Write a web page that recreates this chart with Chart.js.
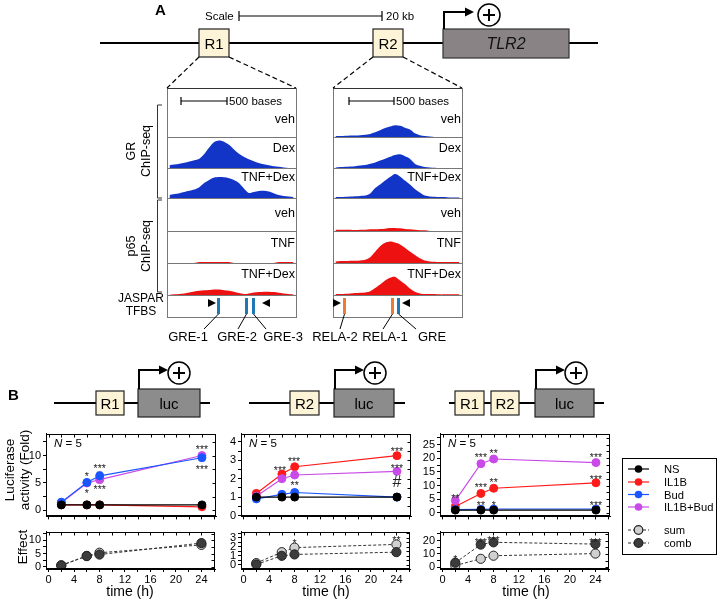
<!DOCTYPE html>
<html>
<head>
<meta charset="utf-8">
<script src="https://cdn.jsdelivr.net/npm/chart.js"></script>
<style>
  body { margin: 0; background: #fff; }
  #fig { position: relative; width: 719px; height: 601px; overflow: hidden; background: #fff; }
  #fig canvas { position: absolute; }
  #ov { position: absolute; left: 0; top: 0; z-index: 2; }
</style>
</head>
<body>
<div id="fig">
<svg id="ov" width="719" height="601" viewBox="0 0 719 601" font-family="Liberation Sans, Arial, sans-serif" fill="#000">
  <!-- ===== panel A : locus ===== -->
  <text x="155" y="15" font-size="15" font-weight="bold">A</text>
  <text x="205" y="20" font-size="11.5">Scale</text>
  <g stroke="#000" stroke-width="1.2">
    <line x1="239" y1="16" x2="382" y2="16"/>
    <line x1="239" y1="11" x2="239" y2="21"/>
    <line x1="382" y1="11" x2="382" y2="21"/>
  </g>
  <text x="386" y="20" font-size="11.5">20 kb</text>
  <line x1="100" y1="43" x2="598" y2="43" stroke="#000" stroke-width="2"/>
  <rect x="199" y="29" width="30" height="28" fill="#fdf3d6" stroke="#222" stroke-width="1.2"/>
  <text x="214" y="48.5" font-size="15" text-anchor="middle">R1</text>
  <rect x="373" y="29" width="30" height="28" fill="#fdf3d6" stroke="#222" stroke-width="1.2"/>
  <text x="388" y="48.5" font-size="15" text-anchor="middle">R2</text>
  <rect x="443" y="29" width="126" height="29" fill="#8a8385" stroke="#333" stroke-width="1.2"/>
  <text x="506" y="49" font-size="16" font-style="italic" text-anchor="middle" fill="#111">TLR2</text>
  <polyline points="444,29 444,12 466,12" fill="none" stroke="#000" stroke-width="2"/>
  <polygon points="465,7.5 474,12 465,16.5" fill="#000"/>
  <circle cx="489" cy="15" r="11" fill="#fff" stroke="#000" stroke-width="1.5"/>
  <g stroke="#000" stroke-width="2"><line x1="483" y1="15" x2="495" y2="15"/><line x1="489" y1="9" x2="489" y2="21"/></g>
  <g stroke="#000" stroke-width="1.2" stroke-dasharray="5,3">
    <line x1="199" y1="57" x2="167" y2="88"/><line x1="229" y1="57" x2="296" y2="88"/>
    <line x1="373" y1="57" x2="333" y2="88"/><line x1="403" y1="57" x2="462" y2="88"/>
  </g>
  <!-- track panels -->
  <g fill="none" stroke="#777" stroke-width="1">
    <rect x="167.5" y="88.5" width="129" height="229"/>
    <rect x="333.5" y="88.5" width="129" height="229"/>
    <path d="M167 137.5H296M167 168.5H296M167 198.5H296M167 231.5H296M167 263.5H296M167 295.5H296"/>
    <path d="M333 137.5H462M333 168.5H462M333 198.5H462M333 231.5H462M333 263.5H462M333 295.5H462"/>
  </g>
  <line x1="167" y1="88.5" x2="296" y2="88.5" stroke="#333"/>
  <line x1="333" y1="88.5" x2="462" y2="88.5" stroke="#333"/>
  <g stroke="#000" stroke-width="1.2">
    <line x1="181" y1="101" x2="227" y2="101"/><line x1="181" y1="97" x2="181" y2="105"/><line x1="227" y1="97" x2="227" y2="105"/>
    <line x1="349" y1="101" x2="394" y2="101"/><line x1="349" y1="97" x2="349" y2="105"/><line x1="394" y1="97" x2="394" y2="105"/>
  </g>
  <text x="229" y="105" font-size="11.5">500 bases</text>
  <text x="396" y="105" font-size="11.5">500 bases</text>
  <g font-size="12.5" text-anchor="end">
    <text x="295" y="122.5">veh</text><text x="295" y="151.5">Dex</text><text x="295" y="180.5">TNF+Dex</text>
    <text x="295" y="216.5">veh</text><text x="295" y="246.5">TNF</text><text x="295" y="277.5">TNF+Dex</text>
    <text x="461" y="122.5">veh</text><text x="461" y="151.5">Dex</text><text x="461" y="180.5">TNF+Dex</text>
    <text x="461" y="216.5">veh</text><text x="461" y="246.5">TNF</text><text x="461" y="277.5">TNF+Dex</text>
  </g>
  <path d="M162 105H157.5V198H162M162 200H157.5V292H162" fill="none" stroke="#333" stroke-width="1"/>
  <g font-size="12.5" text-anchor="middle" dominant-baseline="central">
    <text transform="translate(131,151) rotate(-90)">GR</text>
    <text transform="translate(146,151) rotate(-90)">ChIP-seq</text>
    <text transform="translate(131,246) rotate(-90)">p65</text>
    <text transform="translate(146,246) rotate(-90)">ChIP-seq</text>
  </g>
  <text x="141" y="302" font-size="12" text-anchor="middle">JASPAR</text>
  <text x="141" y="315" font-size="12" text-anchor="middle">TFBS</text>
  <!-- TFBS marks -->
  <polygon points="208,299 216,303 208,307"/><polygon points="270,299 262,303 270,307"/>
  <rect x="217" y="298" width="3" height="16" fill="#1f78b4"/>
  <rect x="245" y="298" width="3" height="16" fill="#1f78b4"/>
  <rect x="252" y="298" width="3" height="16" fill="#1f78b4"/>
  <polygon points="333,299 341,303 333,307"/><polygon points="410,299 402,303 410,307"/>
  <rect x="343" y="298" width="3" height="16" fill="#e87d33"/>
  <rect x="391" y="298" width="3" height="16" fill="#e87d33"/>
  <rect x="397" y="298" width="3" height="16" fill="#1f78b4"/>
  <g stroke="#000" stroke-width="1">
    <line x1="218.5" y1="314" x2="204" y2="329"/><line x1="246.5" y1="314" x2="238" y2="329"/><line x1="253.5" y1="314" x2="266" y2="329"/>
    <line x1="344.5" y1="314" x2="340" y2="329"/><line x1="392.5" y1="314" x2="383" y2="329"/><line x1="398.5" y1="314" x2="416" y2="329"/>
  </g>
  <g font-size="13" text-anchor="middle">
    <text x="188" y="341">GRE-1</text><text x="237" y="341">GRE-2</text><text x="283" y="341">GRE-3</text>
    <text x="335" y="341">RELA-2</text><text x="385" y="341">RELA-1</text><text x="432" y="341">GRE</text>
  </g>

  <!-- ===== panel B : constructs ===== -->
  <text x="8" y="400" font-size="15" font-weight="bold">B</text>
  <g stroke="#000" stroke-width="2">
    <line x1="54" y1="403" x2="210" y2="403"/>
    <line x1="249" y1="403" x2="405" y2="403"/>
    <line x1="449" y1="403" x2="604" y2="403"/>
  </g>
  <g stroke="#222" stroke-width="1.2">
    <rect x="96" y="391" width="28" height="24" fill="#fdf3d6"/>
    <rect x="138" y="389" width="62" height="28" fill="#8c8c8c"/>
    <rect x="290" y="391" width="29" height="24" fill="#fdf3d6"/>
    <rect x="334" y="389" width="60" height="28" fill="#8c8c8c"/>
    <rect x="455" y="391" width="29" height="24" fill="#fdf3d6"/>
    <rect x="491" y="391" width="28" height="24" fill="#fdf3d6"/>
    <rect x="535" y="389" width="59" height="28" fill="#8c8c8c"/>
  </g>
  <g font-size="15" text-anchor="middle">
    <text x="110" y="408.5">R1</text><text x="169" y="408.5">luc</text>
    <text x="304.5" y="408.5">R2</text><text x="364" y="408.5">luc</text>
    <text x="469.5" y="408.5">R1</text><text x="505" y="408.5">R2</text><text x="564.5" y="408.5">luc</text>
  </g>
  <g fill="none" stroke="#000" stroke-width="2">
    <polyline points="139,389 139,370 160,370"/>
    <polyline points="335,389 335,370 356,370"/>
    <polyline points="536,389 536,370 557,370"/>
  </g>
  <polygon points="159,365.5 168,370 159,374.5"/>
  <polygon points="355,365.5 364,370 355,374.5"/>
  <polygon points="556,365.5 565,370 556,374.5"/>
  <g fill="#fff" stroke="#000" stroke-width="1.5">
    <circle cx="179" cy="373" r="11"/><circle cx="375" cy="373" r="11"/><circle cx="576" cy="373" r="11"/>
  </g>
  <g stroke="#000" stroke-width="2">
    <path d="M173 373H185M179 367V379"/><path d="M369 373H381M375 367V379"/><path d="M570 373H582M576 367V379"/>
  </g>
  <!-- axis titles -->
  <g font-size="13.5" text-anchor="middle" dominant-baseline="central">
    <text transform="translate(9,470) rotate(-90)">Luciferase</text>
    <text transform="translate(24,470) rotate(-90)">activity (Fold)</text>
    <text transform="translate(22,547) rotate(-90)">Effect</text>
  </g>
  <g font-size="14" text-anchor="middle">
    <text x="130" y="596">time (h)</text><text x="326" y="596">time (h)</text><text x="526" y="596">time (h)</text>
  </g>
  <!-- legend -->
  <rect x="622.5" y="458.5" width="94" height="96" fill="#fff" stroke="#000" stroke-width="1"/>
  <g stroke-width="1.2">
    <line x1="628" y1="469" x2="649" y2="469" stroke="#000"/><circle cx="638.5" cy="469" r="3.8" fill="#000"/>
    <line x1="628" y1="482" x2="649" y2="482" stroke="#ff1a1a"/><circle cx="638.5" cy="482" r="3.8" fill="#ff1a1a"/>
    <line x1="628" y1="494.5" x2="649" y2="494.5" stroke="#1a56ff"/><circle cx="638.5" cy="494.5" r="3.8" fill="#1a56ff"/>
    <line x1="628" y1="507" x2="649" y2="507" stroke="#c94ae8"/><circle cx="638.5" cy="507" r="3.8" fill="#c94ae8"/>
    <line x1="628" y1="530" x2="649" y2="530" stroke="#333" stroke-dasharray="3,2"/><circle cx="638.5" cy="530" r="4.3" fill="#d0d0d0" stroke="#222"/>
    <line x1="628" y1="543" x2="649" y2="543" stroke="#333" stroke-dasharray="3,2"/><circle cx="638.5" cy="543" r="4.3" fill="#3c3c3c" stroke="#222"/>
  </g>
  <g font-size="11.2" dominant-baseline="central">
    <text x="664" y="469">NS</text><text x="664" y="482">IL1B</text><text x="664" y="494.5">Bud</text>
    <text x="664" y="507">IL1B+Bud</text><text x="664" y="530">sum</text><text x="664" y="543">comb</text>
  </g>
</svg>
</div>
<script>
// ---- ChIP-seq coverage (26 bins across each window, fraction of track height) ----
const bins = [0, 1, 2, 3, 4, 5, 6, 7, 8, 9, 10, 11, 12, 13, 14, 15, 16, 17, 18, 19, 20, 21, 22, 23, 24, 25];

const grVehR1    = [0, 0, 0, 0, 0, 0, 0, 0, 0, 0, 0, 0, 0, 0, 0, 0, 0, 0, 0, 0, 0, 0, 0, 0, 0, 0];
const grDexR1    = [0.09, 0.11, 0.14, 0.17, 0.21, 0.25, 0.30, 0.45, 0.66, 0.84, 0.89, 0.85, 0.75, 0.60, 0.46, 0.36, 0.28, 0.22, 0.16, 0.12, 0.09, 0.06, 0.04, 0.02, 0, 0];
const grTnfDexR1 = [0.10, 0.13, 0.16, 0.20, 0.24, 0.28, 0.36, 0.50, 0.60, 0.68, 0.70, 0.69, 0.66, 0.60, 0.50, 0.32, 0.17, 0.20, 0.23, 0.24, 0.22, 0.16, 0.10, 0.07, 0.05, 0.03];
const p65VehR1   = [0, 0, 0, 0, 0, 0, 0, 0, 0, 0, 0, 0, 0, 0, 0, 0, 0, 0, 0, 0, 0, 0, 0, 0, 0, 0];
const p65TnfR1   = [0, 0, 0, 0, 0, 0, 0.03, 0.03, 0.03, 0.03, 0.03, 0.03, 0.03, 0, 0, 0, 0, 0, 0, 0, 0, 0, 0.03, 0.03, 0.03, 0.03];
const p65TnfDexR1 = [0.01, 0.02, 0.03, 0.05, 0.08, 0.11, 0.13, 0.15, 0.16, 0.17, 0.17, 0.15, 0.13, 0.10, 0.06, 0.03, 0.05, 0.08, 0.09, 0.10, 0.10, 0.09, 0.07, 0.05, 0.03, 0.02];

const grVehR2    = [0.03, 0.03, 0.04, 0.05, 0.05, 0.06, 0.07, 0.10, 0.15, 0.22, 0.29, 0.34, 0.38, 0.36, 0.30, 0.24, 0.12, 0.06, 0.03, 0.02, 0, 0, 0, 0, 0, 0];
const grDexR2    = [0.02, 0.03, 0.04, 0.05, 0.06, 0.08, 0.10, 0.14, 0.18, 0.24, 0.30, 0.36, 0.42, 0.44, 0.38, 0.30, 0.14, 0.07, 0.03, 0.02, 0.01, 0, 0, 0, 0, 0];
const grTnfDexR2 = [0.03, 0.03, 0.04, 0.05, 0.06, 0.07, 0.08, 0.15, 0.33, 0.45, 0.58, 0.70, 0.80, 0.72, 0.58, 0.45, 0.30, 0.18, 0.08, 0.05, 0.04, 0.03, 0.03, 0.02, 0.02, 0.02];
const p65VehR2   = [0.04, 0.04, 0.04, 0.04, 0.03, 0.04, 0.04, 0.05, 0.05, 0.06, 0.07, 0.09, 0.09, 0.08, 0.06, 0.05, 0.04, 0.02, 0.02, 0, 0, 0, 0, 0, 0, 0];
const p65TnfR2   = [0.05, 0.06, 0.06, 0.07, 0.07, 0.08, 0.10, 0.18, 0.35, 0.52, 0.63, 0.67, 0.64, 0.58, 0.48, 0.36, 0.25, 0.15, 0.08, 0.05, 0.04, 0.03, 0.03, 0.03, 0.03, 0.03];
const p65TnfDexR2 = [0.03, 0.03, 0.04, 0.05, 0.06, 0.07, 0.08, 0.12, 0.22, 0.33, 0.45, 0.54, 0.57, 0.45, 0.34, 0.20, 0.10, 0.05, 0.03, 0.03, 0.03, 0.02, 0.02, 0.02, 0.02, 0.02];

// ---- luciferase time course ----
const times = [2, 6, 8, 24];
const xTicks = [0, 2, 4, 6, 8, 10, 12, 14, 16, 18, 20, 22, 24, 26];
const xLabels = [0, 4, 8, 12, 16, 20, 24];

// R1-luc
const r1NS     = [1.0, 1.0, 1.0, 1.0];
const r1IL1B   = [1.0, 1.0, 1.0, 0.65];
const r1Bud    = [1.5, 5.1, 6.3, 9.6];
const r1Both   = [1.4, 5.0, 5.6, 10.0];
const r1BudErr = [0.2, 0.3, 0.7, 0.3];
const r1Sum    = [0.5, 4.1, 5.3, 8.3];
const r1Comb   = [0.4, 4.0, 4.6, 9.0];
// R2-luc
const r2NS     = [1.0, 1.0, 1.0, 1.0];
const r2IL1B   = [1.2, 2.25, 2.65, 3.25];
const r2Bud    = [0.9, 1.15, 1.25, 1.0];
const r2Both   = [1.05, 2.0, 2.2, 2.4];
const r2BudErr = [0.05, 0.08, 0.15, 0.05];
const r2Sum    = [0.2, 1.4, 1.9, 2.25];
const r2Comb   = [0.05, 1.0, 1.15, 1.4];
// R1R2-luc
const r12NS    = [1.0, 1.0, 1.0, 1.0];
const r12IL1B  = [2.3, 7.1, 9.0, 11.0];
const r12Bud   = [1.2, 1.3, 1.4, 1.4];
const r12Both  = [4.5, 18.0, 19.7, 18.4];
const r12BothErr = [0.5, 0.8, 0.7, 0.9];
const r12Sum   = [1.4, 6.4, 8.7, 10.3];
const r12Comb  = [3.5, 17.0, 18.7, 17.4];

// y ticks: [all tick marks], [labelled ones]
const yTicksTop1 = [0, 2.5, 5, 7.5, 10, 12.5], yLabTop1 = [0, 5, 10];
const yTicksTop2 = [0, 0.5, 1, 1.5, 2, 2.5, 3, 3.5, 4], yLabTop2 = [0, 1, 2, 3, 4];
const yTicksTop3 = [0, 2.5, 5, 7.5, 10, 12.5, 15, 17.5, 20, 22.5, 25, 27.5], yLabTop3 = [0, 5, 10, 15, 20, 25];
const yTicksBot1 = [0, 2.5, 5, 7.5, 10, 12.5], yLabBot1 = [0, 5, 10];
const yTicksBot2 = [0, 0.5, 1, 1.5, 2, 2.5, 3, 3.5], yLabBot2 = [0, 1, 2, 3];
const yTicksBot3 = [0, 5, 10, 15, 20, 25], yLabBot3 = [0, 10, 20];

// significance marks: [time, value where the mark sits, text]
const r1Marks  = [[6, 6.6, '*'], [6, 3.5, '*'], [8, 8.1, '***'], [8, 4.2, '***'], [24, 11.5, '***'], [24, 7.9, '***']];
const r2Marks  = [[5.7, 2.57, '***'], [7.9, 3.05, '***'], [8, 1.76, '**'], [24, 3.62, '***'], [24, 2.67, '***'], [24, 1.8, '#']];
const r12Marks = [[2, 6.1, '**'], [6, 21, '***'], [8, 22.6, '**'], [24, 21.3, '***'],
                  [6, 10.3, '***'], [8, 11.9, '**'], [24, 12.9, '***'],
                  [6, 3.6, '**'], [8, 3.7, '*'], [24, 3.7, '***']];
const r2EffMarks  = [[8, 2.6, '*'], [24, 2.9, '**']];
const r12EffMarks = [[2, 7.3, '*'], [6, 20.6, '***'], [8, 21.8, '***'], [24, 20.6, '***']];

const FONT = '"Liberation Sans", Arial, sans-serif';
const fig = document.getElementById('fig');
const ov = document.getElementById('ov');

function addCanvas(left, top, w, h) {
  const c = document.createElement('canvas');
  c.width = w; c.height = h;
  c.style.left = left + 'px'; c.style.top = top + 'px';
  c.style.width = w + 'px'; c.style.height = h + 'px';
  fig.insertBefore(c, ov);
  return c;
}

// ChIP-seq tracks
function track(left, top, h, vals, color) {
  const c = addCanvas(left, top, 129, h);
  new Chart(c, {
    type: 'line',
    data: { datasets: [{ data: vals.map((v, i) => ({ x: bins[i], y: v })), fill: 'origin',
      backgroundColor: color, borderColor: color, borderWidth: 0, pointRadius: 0, tension: 0.3 }] },
    options: {
      responsive: false, animation: false, events: [],
      layout: { padding: 0 },
      plugins: { legend: { display: false }, tooltip: { enabled: false } },
      scales: { x: { type: 'linear', min: -0.5, max: 25.5, display: false },
                y: { min: 0, max: 1, display: false } }
    }
  });
}
const BLUE = '#1235c8', RED = '#ee1111';
const rows = [[106, 31], [137, 31], [168, 30], [198, 33], [231, 32], [263, 32]];
[[grVehR1, BLUE], [grDexR1, BLUE], [grTnfDexR1, BLUE], [p65VehR1, RED], [p65TnfR1, RED], [p65TnfDexR1, RED]]
  .forEach(([v, col], i) => track(167, rows[i][0], rows[i][1], v, col));
[[grVehR2, BLUE], [grDexR2, BLUE], [grTnfDexR2, BLUE], [p65VehR2, RED], [p65TnfR2, RED], [p65TnfDexR2, RED]]
  .forEach(([v, col], i) => track(333, rows[i][0], rows[i][1], v, col));

// frame, inner ticks, error bars, marks
const framePlugin = {
  id: 'frame',
  beforeDatasetsDraw(chart, args, o) {
    const { ctx, scales: { x, y } } = chart;
    (o.errs || []).forEach(([di, err]) => {
      const ds = chart.data.datasets[di];
      ctx.save();
      ctx.strokeStyle = ds.borderColor; ctx.lineWidth = 1.2;
      ds.data.forEach((p, i) => {
        if (!err[i]) return;
        const px = x.getPixelForValue(p.x);
        const y1 = y.getPixelForValue(p.y - err[i]), y2 = y.getPixelForValue(p.y + err[i]);
        ctx.beginPath();
        ctx.moveTo(px, y1); ctx.lineTo(px, y2);
        ctx.moveTo(px - 2.5, y1); ctx.lineTo(px + 2.5, y1);
        ctx.moveTo(px - 2.5, y2); ctx.lineTo(px + 2.5, y2);
        ctx.stroke();
      });
      ctx.restore();
    });
  },
  afterDraw(chart, args, o) {
    const { ctx, chartArea: a, scales: { x, y } } = chart;
    ctx.save();
    ctx.strokeStyle = '#000'; ctx.lineWidth = 1;
    const L = Math.round(a.left) + 0.5, R = Math.round(a.right) - 0.5;
    const T = Math.round(a.top) + 0.5, B = Math.round(a.bottom) - 0.5;
    ctx.strokeRect(L, T, R - L, B - T);
    ctx.beginPath();
    x.ticks.forEach(t => { const px = Math.round(x.getPixelForValue(t.value)) + 0.5; ctx.moveTo(px, T); ctx.lineTo(px, T + 3); });
    y.ticks.forEach(t => { const py = Math.round(y.getPixelForValue(t.value)) + 0.5; ctx.moveTo(R, py); ctx.lineTo(R - 3, py); });
    ctx.stroke();
    ctx.fillStyle = '#222';
    ctx.textAlign = 'center'; ctx.textBaseline = 'middle';
    (o.marks || []).forEach(([t, v, s]) => {
      const px = x.getPixelForValue(t), py = y.getPixelForValue(v);
      if (s === '#') { ctx.font = '16px ' + FONT; ctx.fillText(s, px, py); }
      else { ctx.font = '10.5px ' + FONT; ctx.fillText(s, px, py + 3); }
    });
    if (o.n) {
      ctx.textAlign = 'left'; ctx.fillStyle = '#000';
      ctx.font = 'italic 11.5px ' + FONT;
      const nx = a.left + 8, ny = a.top + 10;
      ctx.fillText('N', nx, ny);
      const w = ctx.measureText('N').width;
      ctx.font = '11.5px ' + FONT;
      ctx.fillText(' = 5', nx + w, ny);
    }
    ctx.restore();
  }
};

function ser(vals, color, extra) {
  return Object.assign({
    data: times.map((t, i) => ({ x: t, y: vals[i] })),
    borderColor: color, backgroundColor: color,
    pointBackgroundColor: color, pointBorderColor: color,
    borderWidth: 1.2, pointRadius: 4, pointBorderWidth: 1
  }, extra || {});
}
function eff(vals, fillCol) {
  return ser(vals, '#333', { borderDash: [3, 2], borderWidth: 1, pointBackgroundColor: fillCol, pointBorderColor: '#222', pointRadius: 4.6 });
}

function bChart(frameLeft, frameTop, frameH, showX, yMin, yMax, yTicks, yLabs, datasets, plug) {
  const xh = showX ? 20 : 4;
  const c = addCanvas(frameLeft - 30, frameTop - 2, 172 + 33, frameH + 2 + xh);
  new Chart(c, {
    type: 'line',
    data: { datasets },
    options: {
      responsive: false, animation: false, events: [],
      layout: { padding: { top: 2, right: 3, left: 0, bottom: 0 } },
      plugins: { legend: { display: false }, tooltip: { enabled: false }, frame: plug },
      scales: {
        x: {
          type: 'linear', min: -0.4, max: 26.2,
          afterBuildTicks: s => { s.ticks = xTicks.map(v => ({ value: v })); },
          afterFit: s => { s.height = xh; },
          grid: { drawOnChartArea: false, drawTicks: true, tickLength: 3, color: '#000' },
          border: { display: true, color: '#000', width: 1 },
          ticks: { display: showX, autoSkip: false, maxRotation: 0, padding: 1, color: '#000',
                   font: { size: 11, family: FONT }, callback: v => xLabels.includes(v) ? String(v) : '' }
        },
        y: {
          min: yMin, max: yMax,
          afterBuildTicks: s => { s.ticks = yTicks.map(v => ({ value: v })); },
          afterFit: s => { s.width = 30; },
          grid: { drawOnChartArea: false, drawTicks: true, tickLength: 3, color: '#000' },
          border: { display: true, color: '#000', width: 1 },
          ticks: { autoSkip: false, padding: 2, color: '#000', font: { size: 11, family: FONT },
                   callback: v => yLabs.includes(v) ? String(v) : '' }
        }
      }
    },
    plugins: [framePlugin]
  });
}

const C_NS = '#000000', C_IL = '#ff1a1a', C_BUD = '#1a56ff', C_BOTH = '#c94ae8';
const lefts = [46, 241, 440];

bChart(lefts[0], 427, 94, false, -1.1, 14, yTicksTop1, yLabTop1,
  [ser(r1NS, C_NS), ser(r1Bud, C_BUD), ser(r1Both, C_BOTH), ser(r1IL1B, C_IL)],
  { n: true, marks: r1Marks, errs: [[1, r1BudErr]] });
bChart(lefts[1], 427, 94, false, -0.05, 4.45, yTicksTop2, yLabTop2,
  [ser(r2NS, C_NS), ser(r2Bud, C_BUD), ser(r2Both, C_BOTH), ser(r2IL1B, C_IL)],
  { n: true, marks: r2Marks, errs: [[1, r2BudErr]] });
bChart(lefts[2], 427, 94, false, -1.3, 29, yTicksTop3, yLabTop3,
  [ser(r12NS, C_NS), ser(r12Bud, C_BUD), ser(r12Both, C_BOTH), ser(r12IL1B, C_IL)],
  { n: true, marks: r12Marks, errs: [[2, r12BothErr]] });

bChart(lefts[0], 525, 44, true, -0.94, 13.4, yTicksBot1, yLabBot1,
  [eff(r1Comb, '#3c3c3c'), eff(r1Sum, '#d0d0d0')], { marks: [] });
bChart(lefts[1], 525, 44, true, -0.45, 3.66, yTicksBot2, yLabBot2,
  [eff(r2Comb, '#3c3c3c'), eff(r2Sum, '#d0d0d0')], { marks: r2EffMarks });
bChart(lefts[2], 525, 44, true, -1.2, 26.7, yTicksBot3, yLabBot3,
  [eff(r12Comb, '#3c3c3c'), eff(r12Sum, '#d0d0d0')], { marks: r12EffMarks });
</script>
</body>
</html>
